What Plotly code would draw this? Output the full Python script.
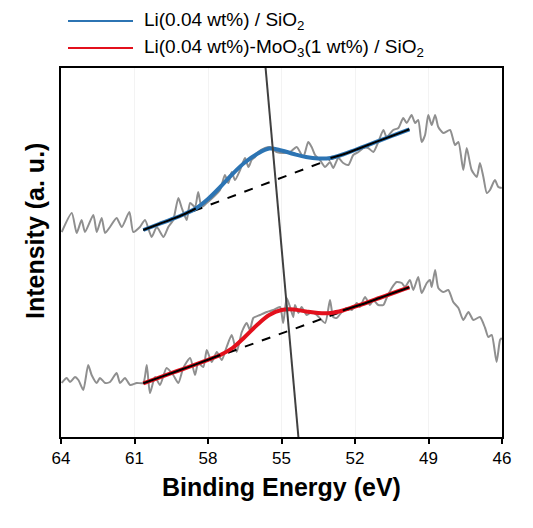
import plotly.graph_objects as go

# ---------------- data ----------------
top_e = [63.97, 63.56, 63.36, 63.16, 63.02, 62.68, 62.54, 62.34, 62.20, 62.00, 61.73, 61.52, 61.21, 61.05,
         60.78, 60.57, 60.30, 60.09, 59.82, 59.62, 59.42, 59.21, 59.07, 58.87, 58.73, 58.53, 58.40, 58.26,
         58.05, 57.78, 57.51, 57.31, 57.17, 57.03, 56.90, 56.69, 56.49, 56.35, 56.22, 56.08, 55.95, 55.67,
         55.47, 55.20, 54.93, 54.65, 54.38, 54.11, 53.91, 53.77, 53.63, 53.43, 53.22, 53.02, 52.89, 52.68,
         52.48, 52.27, 52.07, 51.86, 51.66, 51.46, 51.25, 51.05, 50.84, 50.71, 50.44, 50.23, 50.03, 49.89,
         49.69, 49.55, 49.42, 49.28, 49.14, 49.01, 48.87, 48.73, 48.60, 48.40, 48.12, 47.92, 47.78, 47.58,
         47.44, 47.24, 47.03, 46.90, 46.76, 46.62, 46.49, 46.29, 46.15, 46.01]
top_i = [205, 224, 204, 217, 205, 222, 205, 219, 204, 210, 219, 210, 225, 205,
         210, 217, 200, 210, 200, 210, 217, 239, 229, 217, 234, 230, 245, 230,
         234, 240, 247, 262, 254, 265, 257, 267, 279, 270, 277, 280, 285, 289,
         290, 285, 284, 285, 290, 280, 295, 290, 282, 277, 270, 275, 269, 279,
         274, 272, 282, 285, 289, 289, 285, 295, 307, 300, 307, 309, 319, 314,
         322, 314, 317, 295, 302, 322, 312, 322, 310, 304, 307, 292, 295, 267,
         289, 267, 260, 274, 260, 244, 247, 257, 250, 249]

bot_e = [63.97, 63.77, 63.63, 63.43, 63.29, 63.09, 62.89, 62.75, 62.54, 62.41, 62.20, 62.00, 61.73, 61.59,
         61.39, 61.18, 60.91, 60.64, 60.50, 60.37, 60.16, 59.96, 59.69, 59.42, 59.21, 59.01, 58.73, 58.53,
         58.40, 58.19, 58.05, 57.85, 57.64, 57.44, 57.24, 57.03, 56.83, 56.62, 56.42, 56.29, 56.15, 55.88,
         55.60, 55.33, 55.06, 54.93, 54.79, 54.65, 54.52, 54.45, 54.31, 54.18, 53.97, 53.77, 53.56, 53.22,
         53.02, 52.89, 52.75, 52.54, 52.34, 52.13, 51.93, 51.80, 51.59, 51.39, 51.25, 51.05, 50.84, 50.71,
         50.50, 50.30, 50.09, 49.96, 49.76, 49.62, 49.42, 49.28, 49.07, 48.94, 48.87, 48.73, 48.60, 48.40,
         48.19, 47.99, 47.78, 47.58, 47.37, 47.17, 46.90, 46.69, 46.56, 46.42, 46.22, 46.08, 46.01]
bot_i = [54, 59, 55, 60, 57, 47, 72, 62, 54, 59, 54, 55, 64, 54,
         59, 52, 54, 54, 72, 44, 60, 52, 69, 62, 54, 69, 79, 62,
         74, 70, 87, 75, 85, 77, 90, 102, 85, 105, 114, 107, 119, 122,
         125, 127, 130, 114, 139, 130, 120, 132, 124, 130, 122, 125, 122, 114,
         137, 120, 119, 125, 129, 127, 134, 130, 140, 132, 137, 132, 132, 139,
         149, 155, 154, 150, 157, 147, 160, 144, 154, 157, 150, 167, 149, 145,
         147, 135, 129, 117, 125, 117, 120, 109, 100, 102, 75, 97, 99]

fit_e = [60.64, 60.0, 59.5, 59.0, 58.5, 58.0, 57.5, 57.0, 56.5, 56.0, 55.5, 55.0,
         54.5, 54.0, 53.5, 53.0, 52.5, 52.0, 51.5, 51.0, 50.5, 50.0, 49.78]
fit_blue = [207, 213, 217.6, 222.5, 228.5, 238, 250, 263, 274.5, 283, 288.5, 286.5,
            283, 280, 278.5, 279, 282.5, 287, 291.7, 296.4, 301, 305.6, 307.7]
fit_red = [53.7, 59.4, 63.8, 68.2, 72.6, 77.2, 82, 89, 100, 112, 122, 127,
           127.5, 125.5, 124, 124, 126.5, 130.5, 134.5, 139, 143.5, 147.8, 149.7]

base_e = [60.64, 49.78]
base_top = [207, 307.7]
base_bot = [53.7, 149.7]

# energy ranges where the background line is drawn solid over the fit
solid_top = [(58.5, 61.0), (49.0, 53.0)]
solid_bot = [(57.5, 61.0), (49.0, 52.5)]

marker_e = [55.65, 54.31]
marker_y = [369, 0]

x_ticks = [64, 61, 58, 55, 52, 49, 46]
legend_names = ["Li(0.04 wt%) / SiO<sub>2</sub>",
                "Li(0.04 wt%)-MoO<sub>3</sub>(1 wt%) / SiO<sub>2</sub>"]

# ---------------- figure ----------------
GREY = "#8f8f8f"
BLUE = "#2c74b3"
RED = "#e3101c"
FONT = "Liberation Sans, Arial, sans-serif"

fig = go.Figure()

for e, i in [(top_e, top_i), (bot_e, bot_i)]:
    fig.add_trace(go.Scatter(x=e, y=i, mode="lines", line=dict(color=GREY, width=2, shape="spline", smoothing=0.6),
                             showlegend=False, hoverinfo="skip"))

for base in (base_top, base_bot):
    fig.add_trace(go.Scatter(x=base_e, y=base, mode="lines", line=dict(color="black", width=2, dash="dash"),
                             showlegend=False, hoverinfo="skip"))

for fit, col, solid in [(fit_blue, BLUE, solid_top), (fit_red, RED, solid_bot)]:
    fig.add_trace(go.Scatter(x=fit_e, y=fit, mode="lines", line=dict(color=col, width=4, shape="spline"),
                             showlegend=False, hoverinfo="skip"))
    for lo, hi in solid:
        seg = [(e, v) for e, v in zip(fit_e, fit) if lo <= e <= hi]
        fig.add_trace(go.Scatter(x=[p[0] for p in seg], y=[p[1] for p in seg], mode="lines",
                                 line=dict(color="black", width=2, shape="spline"),
                                 showlegend=False, hoverinfo="skip"))

fig.add_trace(go.Scatter(x=marker_e, y=marker_y, mode="lines", line=dict(color="#404040", width=2),
                         showlegend=False, hoverinfo="skip"))

# page has an 8px body margin: work in page pixels, convert to figure pixels
OFF = 8
FW, FH = 525, 520
PL, PR, PT, PB = 61, 502, 68, 437          # plot area in page pixels
L, T = PL - OFF, PT - OFF
R = FW - (PR - OFF)
B = FH - (PB - OFF)
W, H = PR - PL, PB - PT

def px(xp):
    return (xp - PL) / W
def py(yp):
    return (PB - yp) / H

for name, col, yrow in zip(legend_names, [BLUE, RED], [21, 48]):
    fig.add_shape(type="line", xref="paper", yref="paper", x0=px(68), x1=px(133), y0=py(yrow), y1=py(yrow),
                  line=dict(color=col, width=2))
    fig.add_annotation(xref="paper", yref="paper", x=px(142), y=py(yrow), text=name, showarrow=False,
                       xanchor="left", yanchor="middle", font=dict(family=FONT, size=19, color="black"))

fig.add_annotation(xref="paper", yref="paper", x=px(35), y=py(231), text="<b>Intensity (a. u.)</b>",
                   textangle=-90, showarrow=False, xanchor="center", yanchor="middle",
                   font=dict(family=FONT, size=25, color="black"))
fig.add_annotation(xref="paper", yref="paper", x=px(281), y=py(487), text="<b>Binding Energy (eV)</b>",
                   showarrow=False, xanchor="center", yanchor="middle",
                   font=dict(family=FONT, size=25, color="black"))

fig.update_layout(
    width=FW, height=FH,
    margin=dict(l=L, r=R, t=T, b=B),
    paper_bgcolor="white", plot_bgcolor="white",
    showlegend=False,
    xaxis=dict(range=[64, 46], tickvals=x_ticks, ticktext=[str(t) for t in x_ticks],
               ticks="outside", ticklen=5, tickwidth=1.5, tickcolor="black",
               showline=True, linecolor="black", linewidth=2, mirror=True,
               showgrid=True, gridcolor="#f3f3f3", gridwidth=1, zeroline=False,
               tickfont=dict(family=FONT, size=17, color="black")),
    yaxis=dict(range=[0, 369], showticklabels=False, ticks="", showgrid=False, zeroline=False,
               showline=True, linecolor="black", linewidth=2, mirror=True),
)

fig.write_html("out.html")
